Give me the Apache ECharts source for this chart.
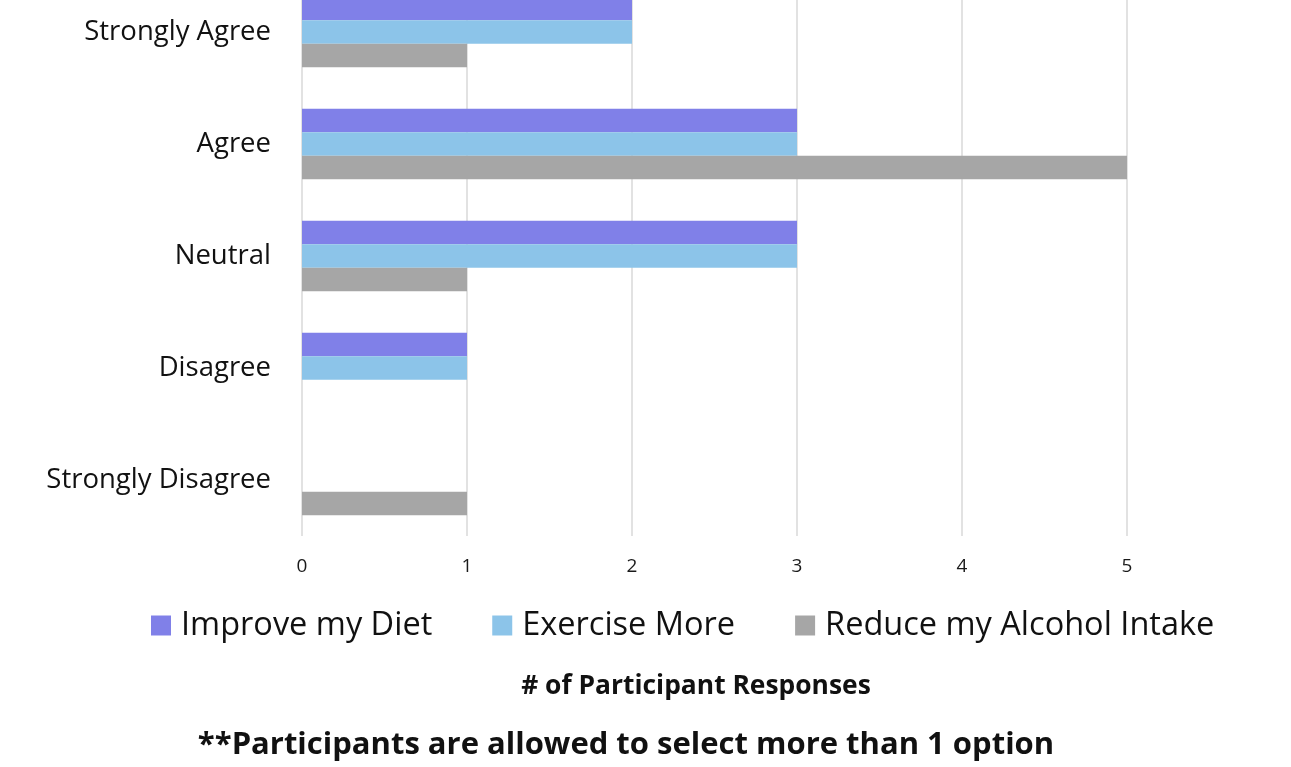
<!DOCTYPE html>
<html>
<head>
    <meta charset="utf-8">
    <script src="https://cdn.jsdelivr.net/npm/echarts@6/dist/echarts.min.js"></script>
    <style type="text/css">
        html, body { margin: 0; padding: 0; background: #fff; overflow: hidden; }
        /* the source picture is cropped at the top, so the chart starts a bit above the page */
        #chart { position: absolute; left: 0; top: -24px; width: 1291px; height: 791px; }
    </style>
</head>
<body>
    <div id="chart"></div>
</body>
</html>

<script type="text/javascript">
    // categories bottom -> top
    let categories = ['Strongly Disagree', 'Disagree', 'Neutral', 'Agree', 'Strongly Agree']
    let diet = [0, 1, 3, 3, 2]
    let exercise = [0, 1, 3, 3, 2]
    let alcohol = [1, 0, 1, 5, 1]
    let seriesNames = ['Improve my Diet', 'Exercise More', 'Reduce my Alcohol Intake']
    let colors = ['#8080e8', '#8cc4e9', '#a6a6a6']

    let font = 'Open Sans'
    let shift = 24
    let myChart = echarts.init(document.getElementById('chart'))

    function bar(name, data, color) {
        return {
            name: name,
            type: 'bar',
            data: data.map(v => v === 0 ? null : v),
            barWidth: 23.5,
            barGap: '0%',
            itemStyle: { color: color },
            silent: true
        }
    }

    let option = {
        animation: false,
        grid: { left: 302, right: 164, top: 0, bottom: 231 },
        legend: {
            data: seriesNames,
            top: 624 + shift - 20,
            left: 146,
            itemWidth: 20,
            itemHeight: 20,
            itemGap: 60,
            icon: 'rect',
            formatter: '{a|{name}}',
            textStyle: {
                rich: { a: { fontFamily: font, fontSize: 32.5, color: '#111', padding: [0, 0, 0, 5] } }
            }
        },
        xAxis: {
            type: 'value',
            min: 0,
            max: 5,
            interval: 1,
            axisLine: { show: false },
            axisTick: { show: false },
            splitLine: { lineStyle: { color: '#d9d9d9', width: 1.5 } },
            axisLabel: { fontFamily: font, fontSize: 19, color: '#1a1a1a', margin: 21 }
        },
        yAxis: {
            type: 'category',
            data: categories,
            axisLine: { show: false },
            axisTick: { show: false },
            axisLabel: { fontFamily: font, fontSize: 27.5, color: '#111', margin: 31 }
        },
        graphic: [
            {
                type: 'text', x: 696, y: 686 + shift,
                style: {
                    text: '# of Participant Responses', textAlign: 'center', textVerticalAlign: 'middle',
                    font: 'bold 26.4px "' + font + '"', fill: '#111'
                }
            },
            {
                type: 'text', x: 626, y: 745 + shift,
                style: {
                    text: '**Participants are allowed to select more than 1 option', textAlign: 'center', textVerticalAlign: 'middle',
                    font: 'bold 31px "' + font + '"', fill: '#111'
                }
            }
        ],
        series: [
            bar(seriesNames[0], diet, colors[0]),
            bar(seriesNames[1], exercise, colors[1]),
            bar(seriesNames[2], alcohol, colors[2])
        ]
    }

    myChart.setOption(option)
</script>
